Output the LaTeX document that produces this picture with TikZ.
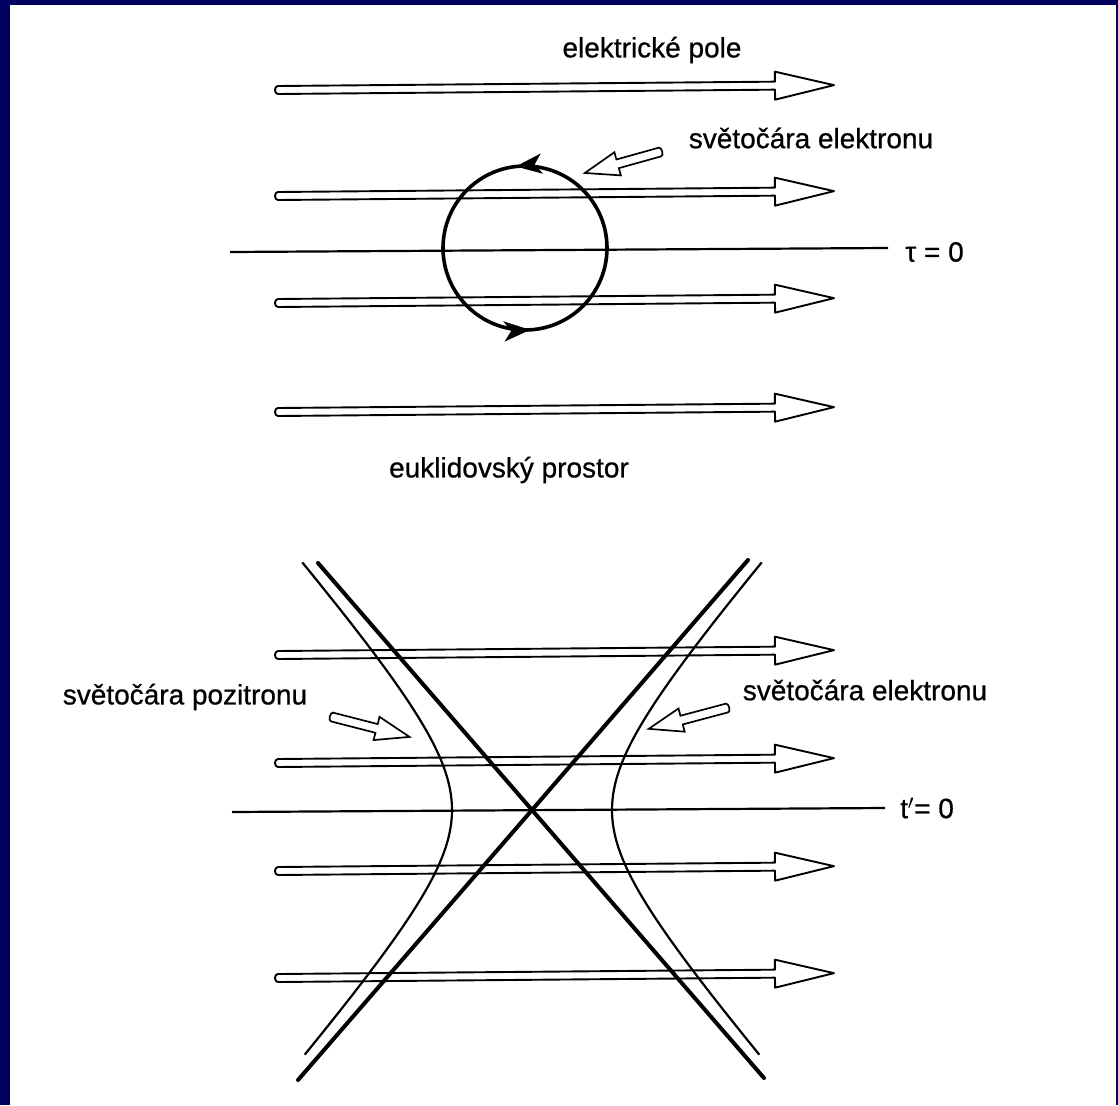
\documentclass[tikz,border=0pt]{standalone}
\usepackage{fontspec}
\setmainfont{Liberation Sans}
\newfontfamily\lblfont{Liberation Sans}[FakeBold=0.7]
\usetikzlibrary{calc,decorations.markings,arrows.meta}
\definecolor{navyframe}{RGB}{0,0,96}
\newcommand\fieldarr[2]{%
  \coordinate (#1s) at (278,#2);
  \begin{scope}[shift={(#1s)}, rotate=0.5]
    \draw[fieldarrow] (0,-4) -- (497,-4) -- (497,-14) -- (556,0) coordinate (#1e)
      -- (497,14) -- (497,4) -- (0,4) .. controls (-4,4) and (-4,-4) .. cycle;
  \end{scope}}
\newcommand\pointerarr[4]{%
  \begin{scope}[shift={(#2)}, rotate=#3]
    \draw[ptr] (0,-4.5) -- (#4-34,-4.5) -- (#4-34,-12) -- (#4,0) coordinate (#1)
      -- (#4-34,12) -- (#4-34,4.5) -- (0,4.5) .. controls (-3,4.5) and (-3,-4.5) .. cycle;
  \end{scope}}
\begin{document}
\begin{tikzpicture}[x=1pt,y=-1pt,
  lbl/.style={font=\lblfont\fontsize{28}{30}\selectfont, inner sep=0pt, text=black},
  fieldarrow/.style={draw=black, line width=1.9pt, line join=round},
  ptr/.style={draw=black, fill=white, line width=1.7pt, line join=miter},
  axisline/.style={line width=2.2pt},
  worldline/.style={line width=2.2pt},
  asym/.style={line width=4pt},
  loopline/.style={line width=3.6pt},
]
\fill[navyframe] (0,0) rectangle (1118,1105);
\fill[white] (10,5) rectangle (1116,1105);
\useasboundingbox (0,0) rectangle (1118,1105);

% ---------- upper picture: euclidean space ----------
\node[lbl] (elpole) at (652,50) {elektrické pole};
\node[lbl] (svelA) at (811,138) {světočára elektronu};
\node[lbl, anchor=west] (tau) at (905,252) {τ = 0};
\node[lbl] (eukl) at (509,470) {euklidovský prostor};

\fieldarr{fa}{90}
\fieldarr{fb}{196}
\fieldarr{fc}{303}
\fieldarr{fd}{412}

\coordinate (tauS) at (230,252);
\coordinate (tauE) at (888,248);
\draw[axisline] (tauS) -- (tauE);

\coordinate (loopc) at (525,248);
\draw[loopline, postaction={decorate}, decoration={markings,
    mark=at position 0.268 with {\arrow{Stealth[length=26pt,width=20pt,inset=7pt]}},
    mark=at position 0.760 with {\arrow{Stealth[length=26pt,width=20pt,inset=7pt]}}}]
  (loopc) circle[radius=82pt];

\coordinate (pAtail) at (660,152);
\pointerarr{pAtip}{pAtail}{195.6}{78}

% ---------- lower picture: minkowski space ----------
\node[lbl] (svpoz) at (185,697) {světočára pozitronu};
\node[lbl] (svelB) at (865,690) {světočára elektronu};
\node[lbl, anchor=west] (tprime) at (900,808) {t$'$= 0};

\fieldarr{fe}{655}
\fieldarr{ff}{763}
\fieldarr{fg}{871}
\fieldarr{fh}{978}

\coordinate (tS) at (232,812);
\coordinate (tE) at (885,808);
\draw[axisline] (tS) -- (tE);

\coordinate (C) at (532,810);
\coordinate (bsTop) at (318,563);
\coordinate (bsBot) at (764,1078);
\coordinate (fsBot) at (298,1080);
\coordinate (fsTop) at (748,560);
\draw[asym, line cap=round] (bsTop) -- (C) -- (bsBot);
\draw[asym, line cap=round] (fsBot) -- (C) -- (fsTop);

\draw[worldline] plot[domain=-1.716:1.705, samples=90, variable=\t]
  ({532-80*cosh(\t)},{810+92*sinh(\t)});
\draw[worldline] plot[domain=-1.716:1.705, samples=90, variable=\t]
  ({532+80*cosh(\t)},{810+92*sinh(\t)});

\coordinate (pBtail) at (332,717);
\pointerarr{pBtip}{pBtail}{-14.4}{80}
\coordinate (pCtail) at (727,708);
\pointerarr{pCtip}{pCtail}{194.9}{81}
\end{tikzpicture}
\end{document}
